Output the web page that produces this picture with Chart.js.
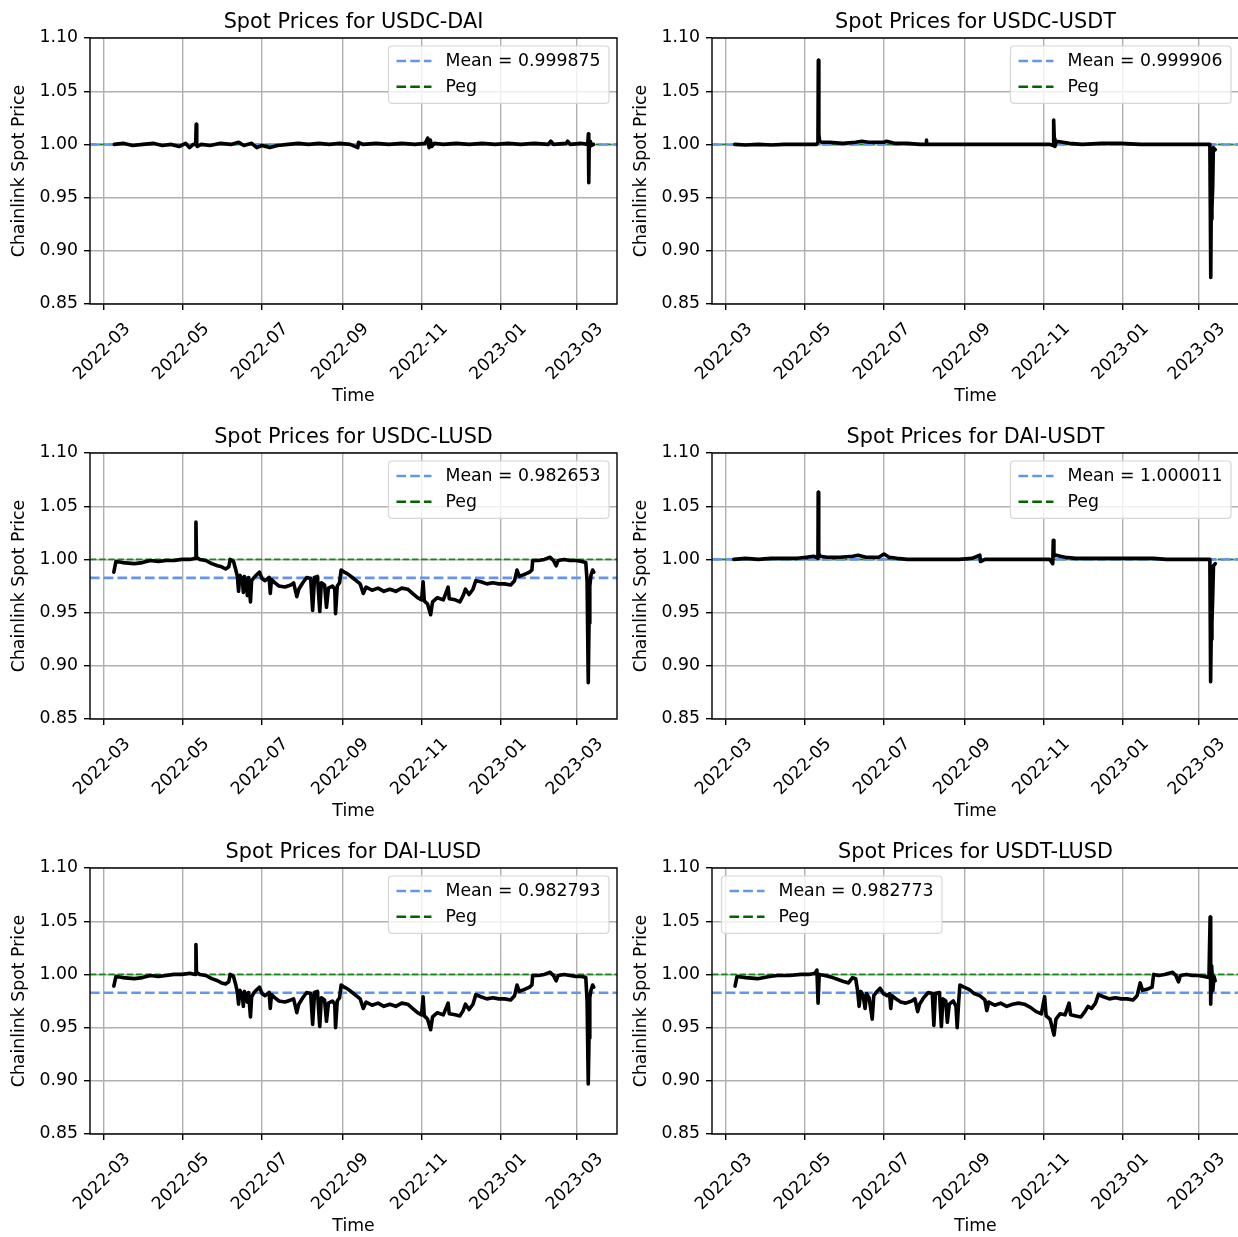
<!DOCTYPE html>
<html>
<head>
<meta charset="utf-8">
<script src="https://cdn.jsdelivr.net/npm/chart.js@4.4.0/dist/chart.umd.min.js"></script>
<style>
html,body{margin:0;padding:0;background:#fff;overflow:hidden;}
#wrap{position:relative;width:1238px;height:1237px;overflow:hidden;background:#fff;}
#wrap canvas{position:absolute;display:block;}
</style>
</head>
<body>
<div id="wrap">
<canvas id="c0" width="620" height="410" style="left:0px;top:0px"></canvas>
<canvas id="c1" width="620" height="410" style="left:622px;top:0px"></canvas>
<canvas id="c2" width="620" height="410" style="left:0px;top:415px"></canvas>
<canvas id="c3" width="620" height="410" style="left:622px;top:415px"></canvas>
<canvas id="c4" width="620" height="410" style="left:0px;top:830px"></canvas>
<canvas id="c5" width="620" height="410" style="left:622px;top:830px"></canvas>
</div>
<script>
// ---------------- DATA ----------------
const tickLabels = ['2022-03','2022-05','2022-07','2022-09','2022-11','2023-01','2023-03'];
const yTickValues = [0.85, 0.90, 0.95, 1.00, 1.05, 1.10];
const pairNames = ['USDC-DAI','USDC-USDT','USDC-LUSD','DAI-USDT','DAI-LUSD','USDT-LUSD'];
const meanPrices = [0.999875, 0.999906, 0.982653, 1.000011, 0.982793, 0.982773];
const pegPrice = 1.0;

// x values: days since 2022-03-01
const usdcDaiDays = [8,15,22,30,38,45,52,58,63,66, 69,70.8,71.2,71.6,72,75,82,90,98,104,
  108,114,118,122,128,134,142,150,158,166, 174,182,190,196,196.5,200,210,220,230,240,
  248,250,251,252,253,255,262,272,282,292, 302,312,322,332,343,345,347,357,358,360,
  368,373.5,374,374.3,374.6,375.5,376.5,378];
const usdcDaiPrices = [1.000,1.001,0.999,1.000,1.001,0.999,1.000,0.998,1.001,0.997,
  1.000,1.000,1.019,1.001,0.998,1.000,0.999,1.001,1.000,1.002,
  0.999,1.001,0.997,0.999,0.997,0.999,1.000,1.001,1.000,1.001,
  1.000,1.001,1.000,0.997,1.002,1.000,1.001,1.000,1.001,1.000,
  1.001,1.006,0.997,1.004,0.998,1.001,1.000,1.001,1.000,1.001,
  1.000,1.001,1.000,1.001,1.000,1.003,1.000,1.001,1.003,1.000,
  1.001,1.000,1.010,0.964,0.995,1.003,0.999,1.000];

const usdcUsdtDays = [6.7,15,25,35,45,55,65,70,71.0,71.3, 71.7,72.3,74,80,90,100,105,110,122,124,
  130,140,150,154.5,154.7,155,165,180,195,210, 225,240,250,252.5,253,253.5,254,255,260,265,
  275,290,305,320,335,350,365,373.6,374.3,374.6, 375.2,375.8,376.3,377.8];
const usdcUsdtPrices = [1.000,0.9995,1.000,0.9995,1.000,1.000,1.000,1.000,1.002,1.079,
  1.010,1.003,1.002,1.002,1.001,1.002,1.003,1.002,1.002,1.003,
  1.001,1.001,1.000,1.000,1.004,1.000,1.000,1.000,1.000,1.000,
  1.000,1.000,1.000,0.999,1.023,1.005,0.998,1.003,1.002,1.001,
  1.000,1.001,1.001,1.000,1.000,1.000,1.000,1.000,0.875,0.930,
  0.940,0.960,0.997,0.995];

const lusdDays = [7.6,9.2,14.4,23.5,29.7,35.8,41.9,48,54.1,60.2,
  66.3,70.6,71.0,71.4,74,78.6,83.2,87.7,90.8,93.9,
  96.3,97.5,100,101.8,103,103.9,104.9,106.7,107.6,108.5,
  109.8,110.7,111.6,113.1,114,115.9,118.3,120.1,122,124.4,
  127.5,128.4,129.3,132,135.1,139.7,144.3,146.4,148.9,150.4,
  153.5,156.5,159.6,161.1,162.6,164.8,166.6,167.8,170.3,171.8,
  173.3,176.4,178.2,178.8,180.1,181.9,183.1,185.6,188.6,191.7,
  194.7,197.8,200.2,202.4,207,211.6,216.1,220.7,225.3,229.9,
  234.5,238.2,242.1,245.2,246.4,247.3,249.8,252.2,253.7,257.4,
  262,265.7,266.6,271.2,274.8,277.3,279.1,281.9,284.9,287.1,
  291,295.6,300.2,304.8,309.4,314,317,318.9,320.7,324.7,
  328.6,330.4,331,335.4,340,344.5,347,349.1,350.7,355.3,
  359.8,364.4,369,372,373,373.9,374.5,375.1,376,377.3,
  378.2];
const usdcLusdPrices = [0.988,0.998,0.997,0.996,0.997,0.999,0.998,0.999,0.999,1.000,
  1.000,1.001,1.035,1.002,1.000,0.999,0.996,0.994,0.993,0.991,
  0.993,1.000,0.998,0.990,0.984,0.970,0.985,0.982,0.969,0.984,
  0.978,0.966,0.983,0.960,0.980,0.983,0.986,0.988,0.982,0.980,
  0.983,0.968,0.981,0.978,0.975,0.974,0.976,0.978,0.965,0.972,
  0.978,0.983,0.982,0.952,0.983,0.984,0.951,0.978,0.976,0.955,
  0.973,0.975,0.972,0.949,0.975,0.978,0.990,0.988,0.986,0.983,
  0.980,0.977,0.968,0.974,0.971,0.973,0.970,0.972,0.970,0.973,
  0.972,0.968,0.964,0.962,0.979,0.961,0.958,0.948,0.960,0.964,
  0.962,0.974,0.963,0.962,0.960,0.966,0.972,0.967,0.972,0.980,
  0.979,0.977,0.978,0.977,0.977,0.976,0.980,0.990,0.984,0.986,
  0.988,0.990,0.999,0.999,1.000,1.002,0.999,0.994,0.999,1.000,
  0.999,0.999,0.998,0.997,0.980,0.884,0.940,0.975,0.985,0.990,
  0.988];
const daiLusdPrices = [0.989,0.998,0.997,0.996,0.997,0.999,0.998,0.999,1.000,1.000,
  1.001,1.000,1.028,1.002,1.000,0.999,0.996,0.994,0.992,0.991,
  0.993,1.000,0.998,0.990,0.983,0.972,0.985,0.981,0.970,0.984,
  0.979,0.974,0.983,0.960,0.979,0.983,0.986,0.988,0.982,0.980,
  0.983,0.968,0.981,0.978,0.975,0.974,0.976,0.977,0.964,0.972,
  0.978,0.983,0.982,0.953,0.983,0.984,0.951,0.978,0.976,0.956,
  0.973,0.975,0.972,0.950,0.975,0.978,0.990,0.988,0.986,0.983,
  0.980,0.977,0.968,0.974,0.971,0.973,0.970,0.972,0.970,0.973,
  0.972,0.968,0.964,0.962,0.979,0.961,0.958,0.948,0.960,0.964,
  0.962,0.973,0.963,0.962,0.961,0.966,0.972,0.967,0.972,0.981,
  0.979,0.977,0.978,0.977,0.977,0.976,0.980,0.990,0.984,0.986,
  0.988,0.990,0.999,0.999,1.000,1.002,0.999,0.994,0.999,1.000,
  0.999,0.998,0.998,0.997,0.975,0.897,0.940,0.978,0.985,0.990,
  0.988];

const daiUsdtDays = [6.1,15,25,35,45,55,62,68,71,71.2, 71.6,72.5,78,88,98,102,108,118,122,126,
  132,140,150,160,170,180,190,196,196.5,200, 210,220,230,240,250,252.3,252.7,253.2,255,258,
  262,270,280,290,300,310,320,330,340,350, 360,373.6,374.2,374.6,375.2,375.8,376.4,377.8];
const daiUsdtPrices = [1.000,1.001,1.000,1.001,1.001,1.001,1.002,1.003,1.001,1.063,
  1.006,1.003,1.002,1.002,1.003,1.004,1.002,1.002,1.005,1.002,
  1.001,1.000,1.000,1.000,1.000,1.000,1.001,1.004,0.998,1.000,
  1.000,1.000,1.000,1.000,1.000,0.996,1.018,1.003,1.004,1.003,
  1.002,1.001,1.001,1.001,1.001,1.001,1.001,1.001,1.000,1.000,
  1.000,1.000,0.885,0.925,0.940,0.965,0.994,0.996];

const usdtLusdDays = [7,8.5,15.3,24.4,33.6,39.7,48.8,58,64.1,68.7,
  70.2,71.1,72,76.3,82.4,87,91.5,94.6,97.7,100.1,
  101.6,102.8,104.1,105.9,107.4,108.6,110.5,112.9,114.1,116.6,
  119,121.5,124.5,126.3,127.2,128.2,131.2,134.9,138.8,143.4,
  145.9,148,149.5,152.6,156.2,159.3,160.5,161.7,164.8,166.3,
  167.5,169.7,170.9,172.4,175.5,177.6,178.5,179.7,180.6,183.7,
  187.7,191.6,195.9,199.9,201.4,202.9,207.5,212.1,216.7,221.2,
  225.8,230.4,235,239.5,243.5,246,247.2,250.2,253.3,254.8,
  257.9,261.8,264.9,266.1,270.1,274,277.1,279.5,282.3,285.3,
  287.5,291.4,296,300.6,305.2,309.7,314.3,317.4,319.8,321.6,
  325,329,330.2,334.1,338.7,344.8,347.3,349.4,350.9,355.5,
  360.1,364.7,369.2,372.9,373.8,374.1,374.4,375,375.9,376.8,
  377.7];
const usdtLusdPrices = [0.989,0.998,0.997,0.996,0.998,0.999,0.999,1.000,1.000,1.001,
  1.004,0.973,1.000,0.999,0.997,0.995,0.993,0.992,0.997,0.996,
  0.985,0.970,0.984,0.980,0.968,0.982,0.978,0.958,0.980,0.984,
  0.987,0.982,0.980,0.982,0.968,0.980,0.977,0.974,0.973,0.975,
  0.977,0.965,0.972,0.978,0.983,0.982,0.952,0.982,0.983,0.951,
  0.977,0.975,0.955,0.972,0.975,0.970,0.950,0.975,0.990,0.988,
  0.986,0.982,0.980,0.976,0.966,0.974,0.971,0.973,0.970,0.972,
  0.973,0.972,0.969,0.965,0.963,0.979,0.961,0.958,0.943,0.958,
  0.963,0.962,0.973,0.962,0.961,0.960,0.965,0.970,0.968,0.973,
  0.981,0.979,0.977,0.978,0.977,0.977,0.976,0.980,0.992,0.985,
  0.986,0.988,1.000,0.999,1.000,1.002,0.999,0.993,0.999,1.000,
  0.999,0.999,0.998,0.997,1.054,0.995,0.972,1.008,0.985,0.998,
  0.994];

const seriesDays = [usdcDaiDays, usdcUsdtDays, lusdDays, daiUsdtDays, lusdDays, usdtLusdDays];
const seriesPrices = [usdcDaiPrices, usdcUsdtPrices, usdcLusdPrices, daiUsdtPrices, daiLusdPrices, usdtLusdPrices];
const legendSides = ['right','right','right','right','right','left'];

// ---------------- RENDER ----------------
const FONT = "'DejaVu Sans', 'Liberation Sans', sans-serif";
const X_MIN = -10.8, X_MAX = 396.1;
const DAY0 = Date.UTC(2022, 2, 1);
function labelToDay(l) {
  const [y, m] = l.split('-').map(Number);
  return (Date.UTC(y, m - 1, 1) - DAY0) / 86400000;
}
Chart.defaults.font.family = FONT;
Chart.defaults.color = '#000';

const mplTitle = {
  id: 'mplTitle',
  afterDraw(chart, args, opts) {
    const {ctx, chartArea: a} = chart;
    ctx.save();
    ctx.font = '20.8px ' + FONT;
    ctx.fillStyle = '#000';
    ctx.textAlign = 'center';
    ctx.textBaseline = 'alphabetic';
    ctx.fillText(opts.text, (a.left + a.right) / 2, a.top - 10.5);
    ctx.restore();
  }
};
const mplFrame = {
  id: 'mplFrame',
  afterDatasetsDraw(chart) {
    const {ctx, chartArea: a} = chart;
    ctx.save();
    ctx.strokeStyle = '#000';
    ctx.lineWidth = 1.4;
    ctx.strokeRect(a.left, a.top, a.right - a.left, a.bottom - a.top);
    ctx.restore();
  }
};
const mplLegend = {
  id: 'mplLegend',
  afterDraw(chart, args, opts) {
    const {ctx, chartArea: a} = chart;
    const items = chart.data.datasets.filter(d => d.legendStyle);
    ctx.save();
    ctx.font = '17.3px ' + FONT;
    const textW = Math.max(...items.map(d => ctx.measureText(d.label).width));
    const padL = 8, handle = 35, gap = 14, padR = 8.5, rowH = 25.7, padT = 15, padB = 16.6;
    const w = padL + handle + gap + textW + padR;
    const h = padT + rowH * (items.length - 1) + padB;
    const x = opts.side === 'left' ? a.left + 9.5 : a.right - 8 - w;
    const y = a.top + 8;
    ctx.beginPath();
    ctx.roundRect(x, y, w, h, 3.5);
    ctx.fillStyle = 'rgba(255,255,255,0.8)';
    ctx.fill();
    ctx.strokeStyle = '#d6d6d6';
    ctx.lineWidth = 1.2;
    ctx.stroke();
    items.forEach((d, i) => {
      const cy = y + padT + i * rowH;
      ctx.beginPath();
      ctx.setLineDash(d.legendStyle.dash);
      ctx.strokeStyle = d.legendStyle.color;
      ctx.lineWidth = 2.6;
      ctx.moveTo(x + padL, cy);
      ctx.lineTo(x + padL + handle, cy);
      ctx.stroke();
      ctx.setLineDash([]);
      ctx.fillStyle = '#000';
      ctx.textAlign = 'left';
      ctx.textBaseline = 'middle';
      ctx.fillText(d.label, x + padL + handle + gap, cy + 1);
    });
    ctx.restore();
  }
};

const gridOpts = {color: '#b0b0b0', lineWidth: 1.4, drawTicks: true, tickLength: 6, tickColor: '#000', tickWidth: 1.4};

pairNames.forEach((name, k) => {
  const days = seriesDays[k], prices = seriesPrices[k];
  new Chart(document.getElementById('c' + k), {
    type: 'line',
    data: {
      datasets: [
        {label: name, data: days.map((d, i) => ({x: d, y: prices[i]})),
         borderColor: '#000', borderWidth: 3.6, pointRadius: 0, tension: 0,
         borderJoinStyle: 'round', borderCapStyle: 'round'},
        {label: 'Mean = ' + meanPrices[k].toFixed(6),
         data: [{x: X_MIN, y: meanPrices[k]}, {x: X_MAX, y: meanPrices[k]}],
         borderColor: '#6495ED', borderWidth: 2.6, borderDash: [9.6, 4.15], pointRadius: 0,
         legendStyle: {color: '#6495ED', dash: [9.6, 4.15]}},
        {label: 'Peg', data: [{x: X_MIN, y: pegPrice}, {x: X_MAX, y: pegPrice}],
         borderColor: '#138a13', borderWidth: 1.7, borderDash: [6.4, 2.8], pointRadius: 0,
         legendStyle: {color: '#006400', dash: [9.6, 4.15]}}
      ]
    },
    options: {
      responsive: false, animation: false, devicePixelRatio: 1,
      events: [],
      layout: {padding: {top: 38, right: 3, bottom: 0, left: 0}},
      plugins: {
        legend: {display: false}, tooltip: {enabled: false}, title: {display: false},
        mplTitle: {text: 'Spot Prices for ' + name},
        mplLegend: {side: legendSides[k]}
      },
      scales: {
        x: {
          type: 'linear', min: X_MIN, max: X_MAX,
          afterBuildTicks: s => { s.ticks = tickLabels.map(l => ({value: labelToDay(l)})); },
          ticks: {autoSkip: false, minRotation: 45, maxRotation: 45, labelOffset: 23.7, padding: 9,
                  color: '#000', font: {size: 17.3}, callback: (v, i) => tickLabels[i]},
          grid: gridOpts,
          border: {display: false},
          title: {display: true, text: 'Time', color: '#000', font: {size: 17.3}, padding: {top: 0, bottom: 3}},
          afterFit: s => { s.height = 106; s.paddingLeft = 0; s.paddingRight = 0; }
        },
        y: {
          type: 'linear', min: 0.85, max: 1.10,
          afterBuildTicks: s => { s.ticks = yTickValues.map(v => ({value: v})); },
          ticks: {padding: 6, color: '#000', font: {size: 17.3}, callback: v => v.toFixed(2)},
          grid: gridOpts,
          border: {display: false},
          title: {display: true, text: 'Chainlink Spot Price', color: '#000', font: {size: 17.3}, padding: {top: 9.5, bottom: 0}},
          afterFit: s => { s.width = 90; s.paddingTop = 0; s.paddingBottom = 0; }
        }
      }
    },
    plugins: [mplTitle, mplFrame, mplLegend]
  });
});
</script>
</body>
</html>
